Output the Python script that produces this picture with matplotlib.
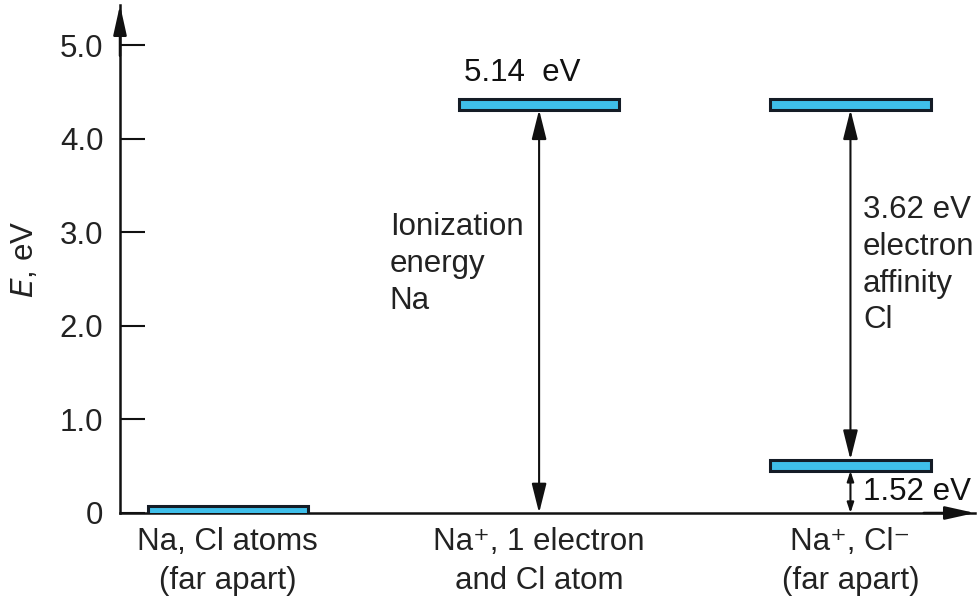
import matplotlib.pyplot as plt

plt.rcParams['font.family'] = ['Liberation Sans', 'DejaVu Sans']

# energy levels (as drawn) for each configuration
states = ['Na, Cl atoms\n(far apart)',
          'Na\u207a, 1 electron\nand Cl atom',
          'Na\u207a, Cl\u207b\n(far apart)']
level_x = [0, 1, 2, 2]
level_e = [0.02, 4.37, 4.37, 0.51]
yticks = [0, 1, 2, 3, 4, 5]
yticklabels = ['0', '1.0', '2.0', '3.0', '4.0', '5.0']

ion_label = 'Ionization\nenergy\nNa'
aff_label = '3.62 eV\nelectron\naffinity\nCl'
top_label = '5.14  eV'
low_label = '1.52 eV'

fs = 22.5

fig = plt.figure(figsize=(9.78, 6), dpi=100)
ax = fig.add_axes([120 / 978, 87 / 600, 855 / 978, 508 / 600])
ax.set_xlim(-0.346, 2.40)
ax.set_ylim(0, 5.43)

for s in ['top', 'right']:
    ax.spines[s].set_visible(False)
for s in ['left', 'bottom']:
    ax.spines[s].set_linewidth(1.8)
    ax.spines[s].set_color('#111111')

# axis arrow heads
head = dict(arrowstyle='-|>,head_length=1.8,head_width=0.4',
            color='#111111', lw=1.8, shrinkA=0, shrinkB=0)
ax.annotate('', xy=(0, 1.0), xytext=(0, 0.9), xycoords='axes fraction',
            arrowprops=head, annotation_clip=False)
ax.annotate('', xy=(1.0, 0), xytext=(0.94, 0), xycoords='axes fraction',
            arrowprops=head, annotation_clip=False)

ax.set_yticks(yticks)
ax.set_yticklabels(yticklabels)
ax.tick_params(axis='y', direction='in', length=18, width=1.5, color='#111111',
               labelsize=fs, labelcolor='#222222', pad=12)
ax.set_xticks([])
ax.set_ylabel('$\\mathit{E}$, eV', fontsize=fs, color='#222222', labelpad=14)

# level bars
bar_h = 0.12
for x, e in zip(level_x, level_e):
    ax.bar(x, bar_h, bottom=e - bar_h / 2, width=0.515, color='#3fbfea',
           edgecolor='#141c26', linewidth=2.2, zorder=3)

arrow = dict(arrowstyle='<|-|>,head_length=1.8,head_width=0.45',
             color='#111111', lw=1.5, shrinkA=0, shrinkB=0)
ax.annotate('', xy=(level_x[1], level_e[1] - bar_h / 2), xytext=(level_x[1], 0),
            arrowprops=arrow, zorder=2)
ax.annotate('', xy=(level_x[2], level_e[2] - bar_h / 2),
            xytext=(level_x[3], level_e[3] + bar_h / 2), arrowprops=arrow, zorder=2)
ax.annotate('', xy=(level_x[3], level_e[3] - bar_h / 2), xytext=(level_x[3], 0),
            arrowprops=dict(arrowstyle='<|-|>,head_length=0.6,head_width=0.2',
                            color='#111111', lw=1.5, shrinkA=0, shrinkB=0), zorder=2)

ax.text(level_x[1] - 0.24, level_e[1] + 0.17, top_label, fontsize=fs,
        color='#111111', va='bottom', ha='left')
ax.text(0.52, 2.66, ion_label, fontsize=fs, color='#222222', va='center',
        ha='left', linespacing=1.3)
ax.text(2.04, 2.65, aff_label, fontsize=fs, color='#222222', va='center',
        ha='left', linespacing=1.3)
ax.text(2.04, 0.22, low_label, fontsize=fs, color='#111111', va='center',
        ha='left')

for i, s in enumerate(states):
    ax.text(i, -0.15, s, fontsize=fs, color='#222222', ha='center', va='top',
            linespacing=1.4)

fig.savefig('out.png', dpi=100)
